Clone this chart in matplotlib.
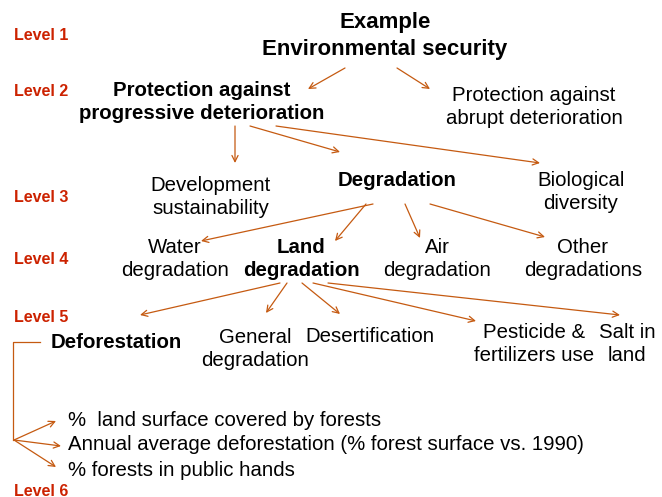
import matplotlib.pyplot as plt
import matplotlib as mpl

mpl.rcParams['font.family'] = ['Liberation Sans', 'DejaVu Sans']

# level labels on the left
level_names = ['Level 1', 'Level 2', 'Level 3', 'Level 4', 'Level 5', 'Level 6']
level_y = [35, 92, 197, 260, 318, 491]

# hierarchy nodes: text, centre (x, y) in pixels, bold?
node_text = ['Example\nEnvironmental security',
             'Protection against\nprogressive deterioration',
             'Protection against\nabrupt deterioration',
             'Development\nsustainability', 'Degradation', 'Biological\ndiversity',
             'Water\ndegradation', 'Land\ndegradation', 'Air\ndegradation', 'Other\ndegradations',
             'Deforestation', 'General\ndegradation', 'Desertification',
             'Pesticide &\nfertilizers use', 'Salt in\nland']
node_x = [385, 202, 534, 211, 397, 581, 175, 301, 437, 583, 116, 255, 370, 534, 627]
node_y = [36, 102, 107, 197, 180, 192, 259, 259, 259, 259, 342, 349, 337, 344, 344]
node_bold = [True, True, False, False, True, False, False, True, False, False,
             True, False, False, False, False]

# level 6 indicators
indicators = ['%  land surface covered by forests',
              'Annual average deforestation (% forest surface vs. 1990)',
              '% forests in public hands']
indicator_y = [420, 445, 471]

# arrows (start -> end), pixels
arrows = [((345, 68), (308, 89)), ((397, 68), (430, 89)),
          ((235, 126), (235, 163)), ((250, 126), (340, 152)), ((276, 126), (540, 163)),
          ((373, 204), (201, 241)), ((366, 204), (335, 241)),
          ((405, 204), (420, 238)), ((430, 204), (545, 237)),
          ((280, 283), (140, 315)), ((287, 283), (266, 313)), ((302, 283), (340, 314)),
          ((313, 283), (476, 321)), ((328, 283), (620, 315)),
          ((14, 440), (56, 421)), ((14, 440), (61, 446)), ((14, 440), (56, 467))]

arrow_col = '#c55a11'
red = '#cc2200'

fig = plt.figure(figsize=(6.62, 4.97), dpi=100)
ax = fig.add_axes([0, 0, 1, 1])
ax.set_xlim(0, 662)
ax.set_ylim(497, 0)
ax.axis('off')

for name, y in zip(level_names, level_y):
    ax.text(14, y, name, color=red, fontsize=11.5, fontweight='bold', ha='left', va='center')

for t, x, y, b in zip(node_text, node_x, node_y, node_bold):
    ax.text(x, y, t, fontsize=16 if t.startswith('Example') else 14.7,
            fontweight='bold' if b else 'normal', ha='center', va='center',
            multialignment='center', linespacing=1.32)

for t, y in zip(indicators, indicator_y):
    ax.text(68, y, t, fontsize=14.7, ha='left', va='center')

for (x0, y0), (x1, y1) in arrows:
    ax.annotate('', xy=(x1, y1), xytext=(x0, y0),
                arrowprops=dict(arrowstyle='->', color=arrow_col, lw=0.9,
                                mutation_scale=11, shrinkA=0, shrinkB=0))

# bracket from Deforestation
ax.plot([40, 13, 13], [342, 342, 440], color=arrow_col, lw=0.9)

fig.savefig('out.png', dpi=100)
